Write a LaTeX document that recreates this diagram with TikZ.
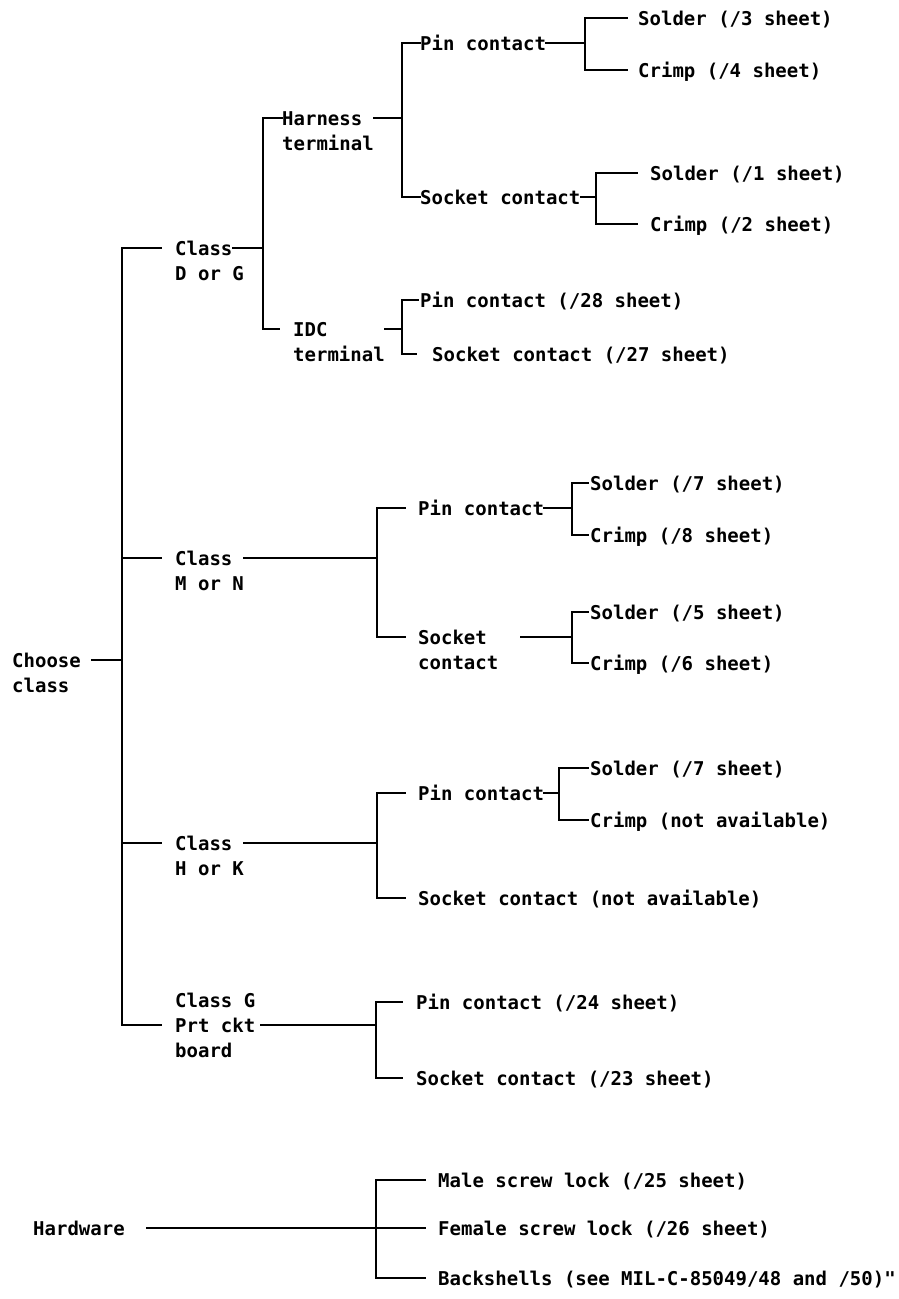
\documentclass[tikz,border=0pt]{standalone}
\usepackage{fontspec}
\setmonofont{DejaVu Sans Mono}
\newcommand{\ml}[1]{\begin{tabular}[t]{@{}l@{}}#1\end{tabular}}
\begin{document}
\begin{tikzpicture}[x=1pt,y=-1pt,
  lbl/.style={inner sep=0pt, anchor=west, text height=14pt, text depth=0pt,
    font=\ttfamily\bfseries\fontsize{19}{25}\selectfont},
  wire/.style={draw=black, line width=1.7pt, line cap=rect}]
\useasboundingbox[fill=white] (0,0) rectangle (899,1299);

% ---------- labels ----------
\node[lbl] (choose) at (12,660) {\ml{Choose\\class}};
\node[lbl] (hw) at (33,1228) {Hardware};

\node[lbl] (cdg) at (175,248) {\ml{Class\\D or G}};
\node[lbl] (cmn) at (175,558) {\ml{Class\\M or N}};
\node[lbl] (chk) at (175,843) {\ml{Class\\H or K}};
\node[lbl] (cg)  at (175,1000) {\ml{Class G\\Prt ckt\\board}};

\node[lbl] (harn) at (282,118) {\ml{Harness\\terminal}};
\node[lbl] (idc)  at (293,329) {\ml{IDC\\terminal}};

\node[lbl] (pin1) at (420,43) {Pin contact};
\node[lbl] (sock1) at (420,197) {Socket contact};
\node[lbl] (sol3) at (638,18) {Solder (/3 sheet)};
\node[lbl] (cr4) at (638,70) {Crimp (/4 sheet)};
\node[lbl] (sol1) at (650,173) {Solder (/1 sheet)};
\node[lbl] (cr2) at (650,224) {Crimp (/2 sheet)};
\node[lbl] (pin28) at (420,300) {Pin contact (/28 sheet)};
\node[lbl] (sock27) at (432,354) {Socket contact (/27 sheet)};

\node[lbl] (pin2) at (418,508) {Pin contact};
\node[lbl] (sock2) at (418,637) {\ml{Socket\\contact}};
\node[lbl] (sol7) at (590,483) {Solder (/7 sheet)};
\node[lbl] (cr8) at (590,535) {Crimp (/8 sheet)};
\node[lbl] (sol5) at (590,612) {Solder (/5 sheet)};
\node[lbl] (cr6) at (590,663) {Crimp (/6 sheet)};

\node[lbl] (pin3) at (418,793) {Pin contact};
\node[lbl] (sockna) at (418,898) {Socket contact (not available)};
\node[lbl] (sol7b) at (590,768) {Solder (/7 sheet)};
\node[lbl] (crna) at (590,820) {Crimp (not available)};

\node[lbl] (pin24) at (416,1002) {Pin contact (/24 sheet)};
\node[lbl] (sock23) at (416,1078) {Socket contact (/23 sheet)};

\node[lbl] (male) at (438,1180) {Male screw lock (/25 sheet)};
\node[lbl] (fem) at (438,1228) {Female screw lock (/26 sheet)};
\node[lbl] (back) at (438,1278) {Backshells (see MIL-C-85049/48 and /50)\char34};

% ---------- junction coordinates ----------
\coordinate (t0) at (122,660);
\coordinate (t1) at (122,248);
\coordinate (t2) at (122,558);
\coordinate (t3) at (122,843);
\coordinate (t4) at (122,1025);

\coordinate (d0) at (263,248);
\coordinate (d1) at (263,118);
\coordinate (d2) at (263,329);

\coordinate (h0) at (402,118);
\coordinate (h1) at (402,43);
\coordinate (h2) at (402,197);
\coordinate (p0) at (585,43);
\coordinate (p1) at (585,18);
\coordinate (p2) at (585,70);
\coordinate (s0) at (596,197);
\coordinate (s1) at (596,173);
\coordinate (s2) at (596,224);
\coordinate (i0) at (402,329);
\coordinate (i1) at (402,300);
\coordinate (i2) at (402,354);

\coordinate (m0) at (377,558);
\coordinate (m1) at (377,508);
\coordinate (m2) at (377,637);
\coordinate (mp0) at (572,508);
\coordinate (mp1) at (572,483);
\coordinate (mp2) at (572,535);
\coordinate (ms0) at (572,637);
\coordinate (ms1) at (572,612);
\coordinate (ms2) at (572,663);

\coordinate (k0) at (377,843);
\coordinate (k1) at (377,793);
\coordinate (k2) at (377,898);
\coordinate (kp0) at (559,793);
\coordinate (kp1) at (559,768);
\coordinate (kp2) at (559,820);

\coordinate (g0) at (376,1025);
\coordinate (g1) at (376,1002);
\coordinate (g2) at (376,1078);

\coordinate (w1) at (376,1180);
\coordinate (w2) at (376,1278);

% ---------- connectors ----------
% root
\draw[wire] ([xshift=11pt]choose.east) -- (t0);
\draw[wire] (t1) -- (t4);
\draw[wire] (t1) -- ([xshift=-14pt]cdg.west);
\draw[wire] (t2) -- ([xshift=-14pt]cmn.west);
\draw[wire] (t3) -- ([xshift=-14pt]chk.west);
\draw[wire] (t4) -- ([xshift=-14pt,yshift=-25pt]cg.west);

% class D or G
\draw[wire] ([xshift=58pt]cdg.west) -- (d0);
\draw[wire] (d1) -- (d2);
\draw[wire] (d1) -- (harn.west);
\draw[wire] (d2) -- ([xshift=-14pt]idc.west);

\draw[wire] (harn.east) -- (h0);
\draw[wire] (h1) -- (h2);
\draw[wire] (h1) -- (pin1.west);
\draw[wire] (h2) -- (sock1.west);
\draw[wire] (pin1.east) -- (p0);
\draw[wire] (p1) -- (p2);
\draw[wire] (p1) -- ([xshift=-11pt]sol3.west);
\draw[wire] (p2) -- ([xshift=-11pt]cr4.west);
\draw[wire] (sock1.east) -- (s0);
\draw[wire] (s1) -- (s2);
\draw[wire] (s1) -- ([xshift=-13pt]sol1.west);
\draw[wire] (s2) -- ([xshift=-13pt]cr2.west);

\draw[wire] (idc.east) -- (i0);
\draw[wire] (i1) -- (i2);
\draw[wire] (i1) -- ([xshift=-2pt]pin28.west);
\draw[wire] (i2) -- ([xshift=-16pt]sock27.west);

% class M or N
\draw[wire] (cmn.east) -- (m0);
\draw[wire] (m1) -- (m2);
\draw[wire] (m1) -- ([xshift=-13pt]pin2.west);
\draw[wire] (m2) -- ([xshift=-13pt]sock2.west);
\draw[wire] (pin2.east) -- (mp0);
\draw[wire] (mp1) -- (mp2);
\draw[wire] (mp1) -- ([xshift=-2pt]sol7.west);
\draw[wire] (mp2) -- ([xshift=-2pt]cr8.west);
\draw[wire] ([xshift=22pt]sock2.east) -- (ms0);
\draw[wire] (ms1) -- (ms2);
\draw[wire] (ms1) -- ([xshift=-2pt]sol5.west);
\draw[wire] (ms2) -- ([xshift=-2pt]cr6.west);

% class H or K
\draw[wire] (chk.east) -- (k0);
\draw[wire] (k1) -- (k2);
\draw[wire] (k1) -- ([xshift=-13pt]pin3.west);
\draw[wire] (k2) -- ([xshift=-13pt]sockna.west);
\draw[wire] (pin3.east) -- (kp0);
\draw[wire] (kp1) -- (kp2);
\draw[wire] (kp1) -- ([xshift=-2pt]sol7b.west);
\draw[wire] (kp2) -- ([xshift=-2pt]crna.west);

% class G printed circuit board
\draw[wire] ([xshift=5pt,yshift=-25pt]cg.east) -- (g0);
\draw[wire] (g1) -- (g2);
\draw[wire] (g1) -- ([xshift=-14pt]pin24.west);
\draw[wire] (g2) -- ([xshift=-14pt]sock23.west);

% hardware
\draw[wire] ([xshift=22pt]hw.east) -- ([xshift=-13pt]fem.west);
\draw[wire] (w1) -- (w2);
\draw[wire] (w1) -- ([xshift=-13pt]male.west);
\draw[wire] (w2) -- ([xshift=-13pt]back.west);
\end{tikzpicture}
\end{document}
